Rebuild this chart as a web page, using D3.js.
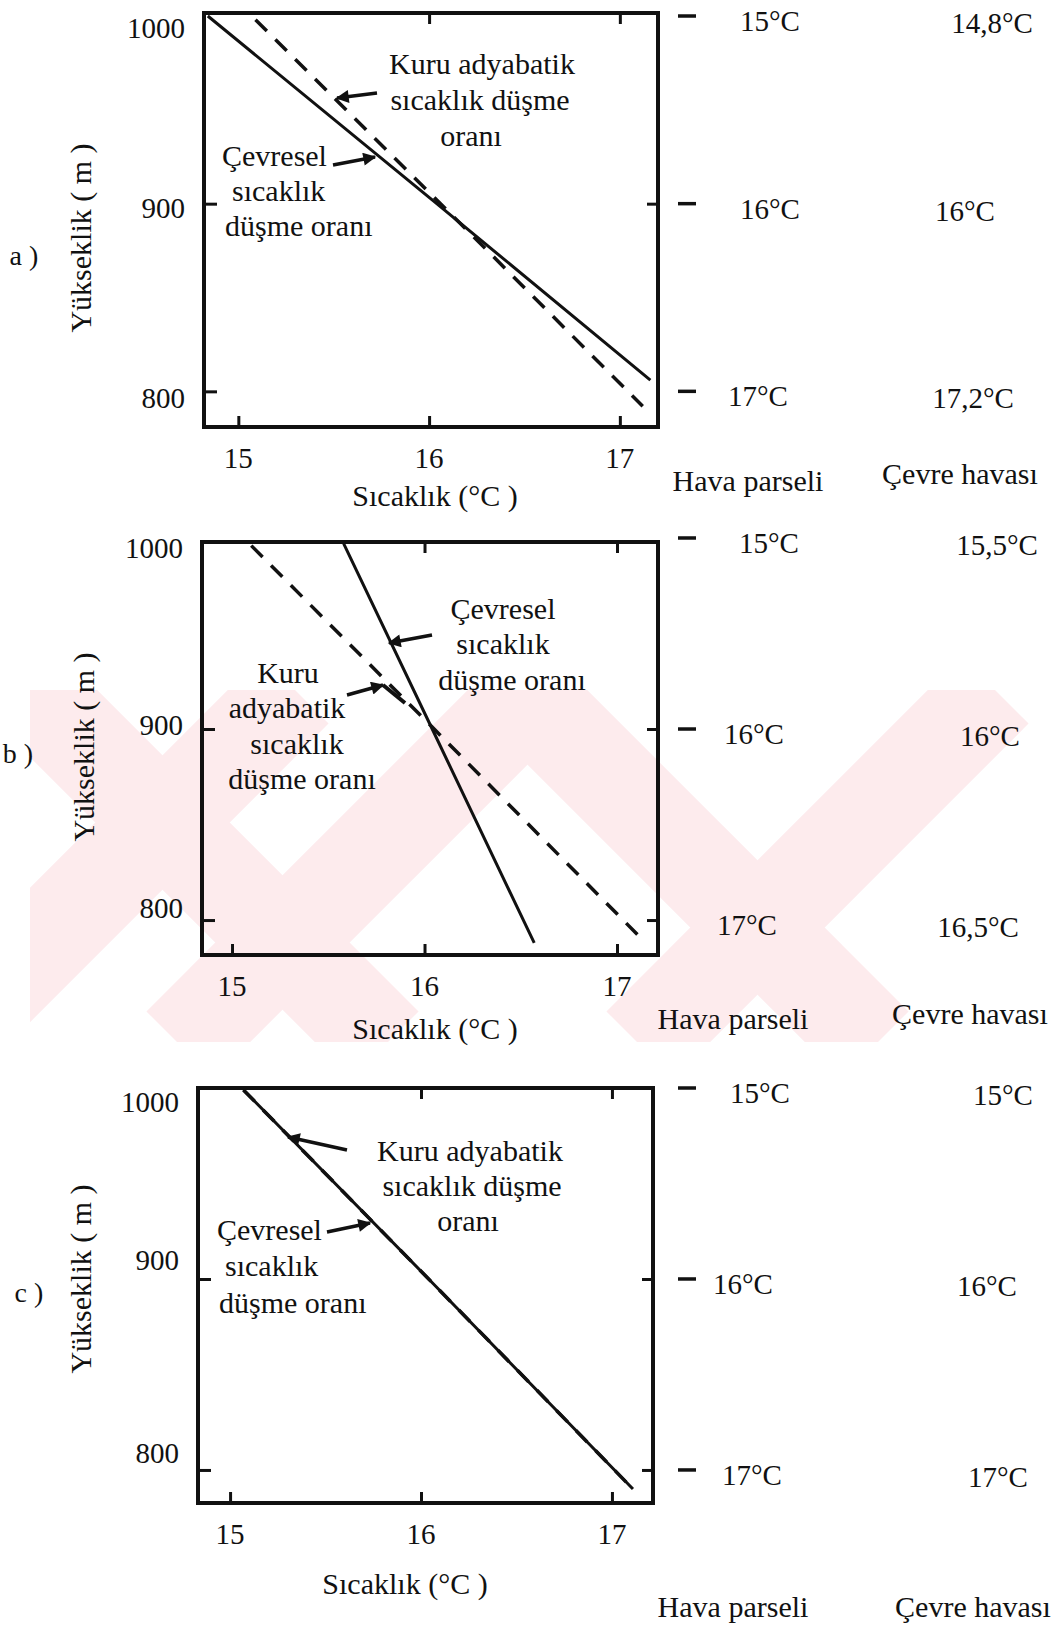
<!DOCTYPE html>
<html>
<head>
<meta charset="utf-8">
<script src="https://cdn.jsdelivr.net/npm/d3@7"></script>
<style>
  body { margin: 0; background: #fff; }
  svg text { font-family: "Liberation Serif", "Times New Roman", serif; fill: #111; }
</style>
</head>
<body>
<svg id="chart" width="1064" height="1627"></svg>
<script>
// shared ticks
const tempTicks = [15, 16, 17]
const altTicks = [800, 900, 1000]

// a) environment colder aloft than the dry adiabat
const envTempA = [14.84, 16.04, 17.16]
const envAltA = [1000, 900, 806]
const dryTempA = [15.09, 16.06, 17.12]
const dryAltA = [998, 900, 792]
const parcelA = ['15°C', '16°C', '17°C']
const ambientA = ['14,8°C', '16°C', '17,2°C']

// b)
const envTempB = [15.58, 16.04, 16.57]
const envAltB = [997, 900, 788]
const dryTempB = [15.10, 16.05, 17.12]
const dryAltB = [996, 900, 791]
const parcelB = ['15°C', '16°C', '17°C']
const ambientB = ['15,5°C', '16°C', '16,5°C']

// c) both lines on top of each other
const envTempC = [15.07, 16.04, 17.11]
const envAltC = [999, 900, 790]
const dryTempC = [15.07, 16.04, 17.11]
const dryAltC = [999, 900, 790]
const parcelC = ['15°C', '16°C', '17°C']
const ambientC = ['15°C', '16°C', '17°C']

const xTitle = 'Sıcaklık (°C )'
const yTitle = 'Yükseklik ( m )'
const colTitles = ['Hava parseli', 'Çevre havası']

const svg = d3.select('#chart')
const defs = svg.append('defs')

defs.append('marker')
    .attr('id', 'head')
    .attr('viewBox', '0 0 10 10')
    .attr('refX', 9).attr('refY', 5)
    .attr('markerWidth', 17).attr('markerHeight', 13)
    .attr('markerUnits', 'userSpaceOnUse')
    .attr('orient', 'auto')
    .append('path').attr('d', 'M0,0 L10,5 L0,10 z').attr('fill', '#111')

// faint watermark behind panel b
defs.append('clipPath').attr('id', 'wm')
    .append('rect').attr('x', 30).attr('y', 690).attr('width', 1034).attr('height', 352)
const bands = [
  [[30, 690], [385, 1045]],
  [[180, 1045], [535, 690]],
  [[520, 690], [875, 1045]],
  [[640, 1045], [995, 690]],
  [[-60, 1045], [295, 690]]
]
svg.append('g').attr('clip-path', 'url(#wm)')
   .selectAll('line').data(bands).enter().append('line')
   .attr('x1', d => d[0][0]).attr('y1', d => d[0][1])
   .attr('x2', d => d[1][0]).attr('y2', d => d[1][1])
   .attr('stroke', '#fdebed').attr('stroke-width', 95)

const panels = [
  {
    name: 'a )', envT: envTempA, envH: envAltA, dryT: dryTempA, dryH: dryAltA,
    parcel: parcelA, ambient: ambientA,
    tempDomain: [14.82, 17.2], altDomain: [781, 1001.6],
    frame: { x0: 204, x1: 658, y0: 13, y1: 427 },
    yLabelShift: [7, 4, 12], rightTicks: [900], outer: [800, 900, 1000],
    letter: [24, 255], yTitle: [80, 238], xTitle: [435, 495],
    cols: [[748, 480], [960, 473]], parcelX: [758, 770, 770], ambientX: [973, 965, 992],
    notes: [
      { lines: ['Kuru adyabatik', 'sıcaklık düşme', 'oranı'], xs: [482, 480, 471], y0: 63, gap: 36, anchor: 'middle' },
      { lines: ['Çevresel', 'sıcaklık', 'düşme oranı'], xs: [222, 232, 225], y0: 155, gap: 35, anchor: 'start' }
    ],
    arrows: [[[377, 93], [337, 98]], [[333, 165], [375, 157]]], hooks: []
  },
  {
    name: 'b )', envT: envTempB, envH: envAltB, dryT: dryTempB, dryH: dryAltB,
    parcel: parcelB, ambient: ambientB,
    tempDomain: [14.844, 17.213], altDomain: [781.7, 997.9],
    frame: { x0: 202, x1: 658, y0: 542, y1: 955 },
    yLabelShift: [-12, -4, 10], rightTicks: [800, 900], outer: [900, 1000],
    letter: [18, 753], yTitle: [83, 747], xTitle: [435, 1028],
    cols: [[733, 1018], [970, 1013]], parcelX: [747, 754, 769], ambientX: [978, 990, 997],
    notes: [
      { lines: ['Çevresel', 'sıcaklık', 'düşme oranı'], xs: [503, 503, 512], y0: 608, gap: 35.5, anchor: 'middle' },
      { lines: ['Kuru', 'adyabatik', 'sıcaklık', 'düşme oranı'], xs: [288, 287, 297, 302], y0: 672, gap: 35.5, anchor: 'middle' }
    ],
    arrows: [[[432, 635], [389, 643]], [[347, 695], [383, 685]]], hooks: [[[383, 685], [405, 703]]]
  },
  {
    name: 'c )', envT: envTempC, envH: envAltC, dryT: dryTempC, dryH: dryAltC,
    parcel: parcelC, ambient: ambientC,
    tempDomain: [14.832, 17.215], altDomain: [782.7, 1000],
    frame: { x0: 198, x1: 653, y0: 1088, y1: 1503 },
    yLabelShift: [-17, -19, 14], rightTicks: [800, 900], outer: [800, 900, 1000],
    letter: [29, 1292], yTitle: [80, 1279], xTitle: [405, 1583],
    cols: [[733, 1606], [973, 1606]], parcelX: [752, 743, 760], ambientX: [998, 987, 1003],
    notes: [
      { lines: ['Kuru adyabatik', 'sıcaklık düşme', 'oranı'], xs: [470, 472, 468], y0: 1150, gap: 35, anchor: 'middle' },
      { lines: ['Çevresel', 'sıcaklık', 'düşme oranı'], xs: [217, 225, 219], y0: 1229, gap: 36.5, anchor: 'start' }
    ],
    arrows: [[[347, 1150], [288, 1137]], [[327, 1232], [370, 1223]]], hooks: []
  }
]

panels.forEach(p => {
  const f = p.frame
  const x = d3.scaleLinear().domain(p.tempDomain).range([f.x0, f.x1])
  const y = d3.scaleLinear().domain(p.altDomain).range([f.y1, f.y0])
  const g = svg.append('g')

  // inward ticks on the four sides
  const tick = (axis, tr) => {
    const a = g.append('g').attr('transform', tr).call(axis.tickSizeOuter(0).tickFormat(''))
    a.select('.domain').remove()
    a.selectAll('line').attr('stroke', '#111').attr('stroke-width', 3)
  }
  tick(d3.axisBottom(x).tickValues(tempTicks).tickSize(-11), `translate(0,${f.y1})`)
  tick(d3.axisTop(x).tickValues([16, 17]).tickSize(-11), `translate(0,${f.y0})`)
  tick(d3.axisLeft(y).tickValues([800, 900]).tickSize(-13), `translate(${f.x0},0)`)
  tick(d3.axisRight(y).tickValues(p.rightTicks).tickSize(-11), `translate(${f.x1},0)`)

  g.append('rect')
   .attr('x', f.x0).attr('y', f.y0)
   .attr('width', f.x1 - f.x0).attr('height', f.y1 - f.y0)
   .attr('fill', 'none').attr('stroke', '#111').attr('stroke-width', 4)

  // tick labels
  g.selectAll('.xl').data(tempTicks).enter().append('text')
   .attr('x', d => x(d)).attr('y', f.y1 + 31).attr('dy', '0.35em')
   .attr('text-anchor', 'middle').attr('font-size', 29).text(d => d)
  g.selectAll('.yl').data(altTicks).enter().append('text')
   .attr('x', f.x0 - 19).attr('y', (d, i) => y(d) + p.yLabelShift[i]).attr('dy', '0.35em')
   .attr('text-anchor', 'end').attr('font-size', 29).text(d => d)

  // lines
  const line = d3.line().x(d => x(d[0])).y(d => y(d[1]))
  g.append('path').datum(d3.zip(p.dryT, p.dryH)).attr('d', line)
   .attr('fill', 'none').attr('stroke', '#111').attr('stroke-width', 3.5)
   .attr('stroke-dasharray', '16 12')
  g.append('path').datum(d3.zip(p.envT, p.envH)).attr('d', line)
   .attr('fill', 'none').attr('stroke', '#111').attr('stroke-width', 3)

  // notes and arrows
  p.notes.forEach(n => {
    n.lines.forEach((t, i) => {
      g.append('text').attr('x', n.xs[i]).attr('y', n.y0 + i * n.gap).attr('dy', '0.35em')
       .attr('text-anchor', n.anchor).attr('font-size', 30).text(t)
    })
  })
  p.arrows.forEach(a => {
    g.append('line')
     .attr('x1', a[0][0]).attr('y1', a[0][1]).attr('x2', a[1][0]).attr('y2', a[1][1])
     .attr('stroke', '#111').attr('stroke-width', 3.5).attr('marker-end', 'url(#head)')
  })
  p.hooks.forEach(a => {
    g.append('line')
     .attr('x1', a[0][0]).attr('y1', a[0][1]).attr('x2', a[1][0]).attr('y2', a[1][1])
     .attr('stroke', '#111').attr('stroke-width', 4)
  })

  // titles
  g.append('text').attr('transform', `translate(${p.yTitle[0]},${p.yTitle[1]}) rotate(-90)`)
   .attr('dy', '0.35em').attr('text-anchor', 'middle').attr('font-size', 30).text(yTitle)
  g.append('text').attr('x', p.xTitle[0]).attr('y', p.xTitle[1]).attr('dy', '0.35em')
   .attr('text-anchor', 'middle').attr('font-size', 30).text(xTitle)
  g.append('text').attr('x', p.letter[0]).attr('y', p.letter[1]).attr('dy', '0.35em')
   .attr('text-anchor', 'middle').attr('font-size', 28).text(p.name)

  // parcel / ambient columns
  g.selectAll('.od').data(p.outer).enter().append('line')
   .attr('x1', 678).attr('x2', 696).attr('y1', d => y(d)).attr('y2', d => y(d))
   .attr('stroke', '#111').attr('stroke-width', 3.5)
  g.selectAll('.pt').data(p.parcel).enter().append('text')
   .attr('x', (d, i) => p.parcelX[2 - i]).attr('y', (d, i) => y(altTicks[altTicks.length - 1 - i]) + 5)
   .attr('dy', '0.35em').attr('text-anchor', 'middle').attr('font-size', 29).text(d => d)
  g.selectAll('.at').data(p.ambient).enter().append('text')
   .attr('x', (d, i) => p.ambientX[2 - i]).attr('y', (d, i) => y(altTicks[altTicks.length - 1 - i]) + 7)
   .attr('dy', '0.35em').attr('text-anchor', 'middle').attr('font-size', 29).text(d => d)
  p.cols.forEach((c, i) => {
    g.append('text').attr('x', c[0]).attr('y', c[1]).attr('dy', '0.35em')
     .attr('text-anchor', 'middle').attr('font-size', 30).text(colTitles[i])
  })
})
</script>
</body>
</html>
